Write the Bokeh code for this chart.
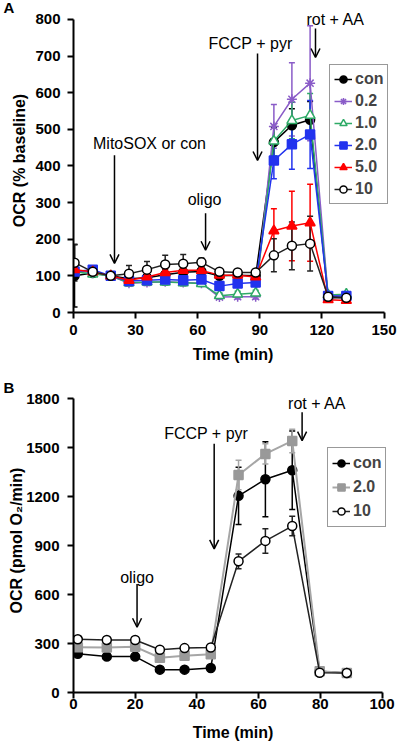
from bokeh.plotting import figure
from bokeh.models import (ColumnDataSource, Whisker, TeeHead, Arrow, OpenHead, Label,
                          Legend, LegendItem, Range1d, FixedTicker)
from bokeh.layouts import column
from bokeh.embed import file_html
from bokeh.resources import INLINE

FONT = "Liberation Sans"

# ---------------- Panel A data (OCR, % baseline) ----------------
time_a = [0.5, 9.3, 18, 26.8, 35.5, 44.3, 53, 61.8, 70.5, 79.3, 88, 96.8, 105.5, 114.3, 123, 131.8]
a_con = [100, 108, 100, 92, 95, 103, 110, 112, 100, 102, 100, 465, 511, 526, 40, 40]
a_con_err = [85, 10, 5, 10, 12, 15, 15, 15, 10, 10, 10, 40, 45, 50, 5, 5]
a_02 = [115, 108, 100, 80, 82, 84, 82, 80, 42, 43, 43, 508, 582, 626, 45, 44]
a_02_err = [20, 8, 5, 8, 8, 8, 8, 8, 6, 6, 6, 60, 100, 157, 5, 5]
a_10 = [111, 105, 100, 81, 83, 83, 81, 79, 46, 50, 53, 468, 524, 538, 48, 50]
a_10_err = [15, 8, 5, 8, 8, 8, 8, 8, 8, 8, 8, 40, 50, 60, 5, 5]
a_20 = [112, 117, 100, 86, 88, 90, 88, 90, 72, 79, 82, 415, 459, 486, 45, 45]
a_20_err = [15, 8, 5, 8, 8, 8, 8, 8, 10, 10, 10, 50, 68, 93, 5, 5]
a_50 = [117, 111, 100, 88, 97, 109, 115, 115, 102, 102, 97, 223, 236, 245, 35, 33]
a_50_err = [15, 8, 5, 8, 10, 12, 14, 15, 10, 10, 10, 60, 95, 105, 5, 5]
a_100 = [136, 111, 100, 106, 117, 131, 133, 137, 111, 109, 109, 156, 182, 188, 43, 40]
a_100_err = [50, 8, 5, 22, 22, 25, 25, 12, 8, 8, 8, 45, 65, 75, 5, 5]
a_labels = ["con", "0.2", "1.0", "2.0", "5.0", "10"]
a_xticks = [0, 30, 60, 90, 120, 150]
a_yticks = [0, 100, 200, 300, 400, 500, 600, 700, 800]

# ---------------- Panel B data (OCR, pmol O2/min) ----------------
time_b = [1.4, 10.8, 20.0, 28.0, 36.0, 44.5, 53.5, 62.2, 70.9, 79.8, 88.6]
b_con = [238, 220, 220, 140, 140, 150, 1205, 1307, 1362, 130, 120]
b_con_err = [15, 12, 12, 10, 10, 10, 175, 230, 240, 10, 8]
b_20 = [278, 276, 280, 213, 225, 235, 1333, 1462, 1542, 130, 120]
b_20_err = [15, 12, 12, 10, 10, 10, 90, 62, 72, 10, 8]
b_100 = [326, 322, 322, 262, 272, 276, 804, 929, 1020, 121, 120]
b_100_err = [15, 12, 12, 10, 10, 10, 45, 75, 60, 8, 8]
b_labels = ["con", "2.0", "10"]
b_xticks = [0, 20, 40, 60, 80, 100]
b_yticks = [0, 300, 600, 900, 1200, 1500, 1800]


def style(p, xticks, yticks, xbounds, ybounds, xlabel, ylabel, x_std, x_lab_std,
          y_std, y_lab_std, panel):
    p.outline_line_color = None
    p.xgrid.visible = False
    p.ygrid.visible = False
    p.xaxis.ticker = FixedTicker(ticks=xticks)
    p.yaxis.ticker = FixedTicker(ticks=yticks)
    p.xaxis.bounds = xbounds
    p.yaxis.bounds = ybounds
    p.xaxis.axis_label = xlabel
    p.yaxis.axis_label = ylabel
    for ax in (p.xaxis[0], p.yaxis[0]):
        ax.axis_line_width = 2
        ax.axis_line_color = "black"
        ax.major_tick_line_width = 2
        ax.major_tick_line_color = "black"
        ax.major_tick_out = 6
        ax.major_tick_in = 0
        ax.minor_tick_out = 0
        ax.minor_tick_in = 0
        ax.major_label_text_font = FONT
        ax.major_label_text_font_style = "bold"
        ax.major_label_text_font_size = "15px"
        ax.major_label_text_color = "black"
        ax.axis_label_text_font = FONT
        ax.axis_label_text_font_style = "bold"
        ax.axis_label_text_font_size = "16px"
        ax.axis_label_text_color = "black"
    p.xaxis.major_label_standoff = x_std
    p.xaxis.axis_label_standoff = x_lab_std
    p.yaxis.major_label_standoff = y_std
    p.yaxis.axis_label_standoff = y_lab_std
    # panel letter as the figure title, pulled to the left edge
    p.title.text = panel
    p.title.align = "left"
    p.title.offset = -70
    p.title.standoff = -15
    p.title.text_font = FONT
    p.title.text_font_style = "bold"
    p.title.text_font_size = "15px"
    p.title.text_color = "black"


def add_series(p, x, y, err, line_color, marker, fill_color, mline, size, lw=1.5):
    src = ColumnDataSource(dict(x=x, y=y,
                                lo=[a - b for a, b in zip(y, err)],
                                hi=[a + b for a, b in zip(y, err)]))
    w = Whisker(source=src, base="x", upper="hi", lower="lo", dimension="height",
                line_color=line_color, line_width=1.5,
                upper_head=TeeHead(size=6, line_color=line_color, line_width=1.5),
                lower_head=TeeHead(size=6, line_color=line_color, line_width=1.5))
    p.add_layout(w)
    ln = p.line("x", "y", source=src, line_color=line_color, line_width=lw)
    sc = p.scatter("x", "y", source=src, marker=marker, size=size,
                   fill_color=fill_color, line_color=mline, line_width=1.5)
    return [ln, sc]


def note(p, x, y, text):
    p.add_layout(Label(x=x, y=y, text=text, text_align="center", text_baseline="middle",
                       text_font=FONT, text_font_size="16px", text_color="black"))


def arrow(p, x, y0, y1):
    p.add_layout(Arrow(x_start=x, y_start=y0, x_end=x, y_end=y1, line_width=1.5,
                       line_color="black",
                       end=OpenHead(size=9, line_width=1.5, line_color="black")))


def make_legend(p, items, loc, gh):
    lg = Legend(items=items, location=loc, border_line_color="#333333",
                border_line_width=1.5, label_text_font=FONT,
                label_text_font_style="bold", label_text_font_size="16px",
                glyph_width=18, glyph_height=gh, label_height=gh, spacing=2,
                padding=4, margin=0, label_standoff=3, background_fill_color="white",
                background_fill_alpha=1.0)
    p.add_layout(lg)


# ---------------- Panel A ----------------
pA = figure(width=400, height=380, output_backend="svg", toolbar_location=None,
            x_range=Range1d(0, 154.1), y_range=Range1d(0, 829.8),
            min_border_left=73, min_border_right=8, min_border_top=8,
            min_border_bottom=68)
style(pA, a_xticks, a_yticks, (0, 150), (0, 800), "Time (min)", "OCR (% baseline)",
      6, 8, 7, 4, "A")

purple, green, blue, red = "#8a5cc8", "#2eaa66", "#2233ee", "#ff0000"
rA = []
rA.append(add_series(pA, time_a, a_con, a_con_err, "black", "circle", "black", "black", 9))
rA.append(add_series(pA, time_a, a_02, a_02_err, purple, "asterisk", purple, purple, 10))
rA.append(add_series(pA, time_a, a_10, a_10_err, green, "triangle", "white", green, 10))
rA.append(add_series(pA, time_a, a_20, a_20_err, blue, "square", blue, blue, 9))
rA.append(add_series(pA, time_a, a_50, a_50_err, red, "triangle", red, red, 10))
rA.append(add_series(pA, time_a, a_100, a_100_err, "#222222", "circle", "white", "black", 9))

make_legend(pA, [LegendItem(label=l, renderers=r) for l, r in zip(a_labels, rA)], (256, 108), 20)

note(pA, 36.7, 462, "MitoSOX or con")
arrow(pA, 19.8, 429, 134)
note(pA, 63.3, 309, "oligo")
arrow(pA, 63.8, 271, 170)
note(pA, 85.5, 734, "FCCP + pyr")
arrow(pA, 88.9, 707, 415)
note(pA, 126.6, 800, "rot + AA")
arrow(pA, 116.9, 775, 696)

# ---------------- Panel B ----------------
pB = figure(width=400, height=366, output_backend="svg", toolbar_location=None,
            x_range=Range1d(0, 103.4), y_range=Range1d(0, 1863),
            min_border_left=72, min_border_right=8, min_border_top=8,
            min_border_bottom=54)
style(pB, b_xticks, b_yticks, (0, 100), (0, 1800), "Time (min)", "OCR (pmol O\u2082/min)",
      0, 12, 8, -2, "B")

rB = []
rB.append(add_series(pB, time_b, b_con, b_con_err, "black", "circle", "black", "black", 9))
rB.append(add_series(pB, time_b, b_20, b_20_err, "#a6a6a6", "square", "#999999", "#999999", 9, lw=2))
rB.append(add_series(pB, time_b, b_100, b_100_err, "#222222", "circle", "white", "black", 9))

make_legend(pB, [LegendItem(label=l, renderers=r) for l, r in zip(b_labels, rB)], (254, 165), 22)

note(pB, 20.6, 705, "oligo")
arrow(pB, 20.6, 665, 400)
note(pB, 43.0, 1585, "FCCP + pyr")
arrow(pB, 45.6, 1524, 880)
note(pB, 79.0, 1770, "rot + AA")
arrow(pB, 74.1, 1718, 1544)

layout = column(pA, pB, spacing=0)
open("out.html", "w").write(file_html(layout, INLINE))
